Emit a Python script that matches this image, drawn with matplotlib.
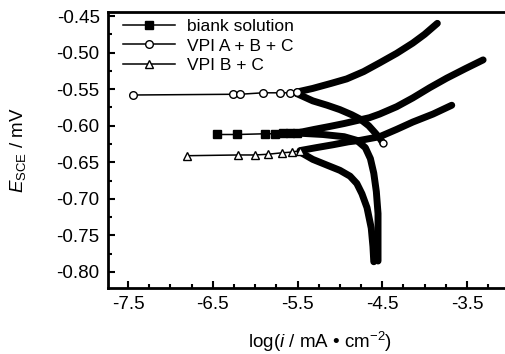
import matplotlib
matplotlib.use("Agg")
import matplotlib.pyplot as plt
from matplotlib.ticker import MultipleLocator, FixedLocator

plt.rcParams['font.family'] = ['Liberation Sans', 'DejaVu Sans']
plt.rcParams['mathtext.fontset'] = 'custom'
plt.rcParams['mathtext.rm'] = 'Liberation Sans'
plt.rcParams['mathtext.it'] = 'Liberation Sans:italic'

# blank solution: points near Ecorr, anodic and cathodic branches
blank_x = [-6.45, -6.21, -5.88, -5.77, -5.67, -5.59, -5.51]
blank_y = [-0.612, -0.612, -0.611, -0.611, -0.610, -0.610, -0.610]
blank_an_x = [-5.51, -5.30, -5.12, -4.95, -4.80, -4.65, -4.53, -4.33, -4.14,
              -3.94, -3.74, -3.52, -3.31]
blank_an_y = [-0.610, -0.605, -0.601, -0.597, -0.593, -0.589, -0.584, -0.574,
              -0.562, -0.548, -0.535, -0.522, -0.510]
blank_ca_x = [-5.51, -5.20, -4.95, -4.80, -4.70, -4.64, -4.60, -4.57, -4.55,
              -4.55, -4.55]
blank_ca_y = [-0.610, -0.612, -0.615, -0.620, -0.630, -0.645, -0.665, -0.690,
              -0.720, -0.750, -0.785]

# VPI A + B + C
abc_x = [-7.44, -6.26, -6.18, -5.91, -5.71, -5.59, -5.51]
abc_y = [-0.558, -0.557, -0.557, -0.555, -0.555, -0.555, -0.554]
abc_an_x = [-5.51, -5.32, -5.10, -4.92, -4.72, -4.53, -4.33, -4.14, -4.00, -3.85]
abc_an_y = [-0.554, -0.549, -0.542, -0.536, -0.526, -0.514, -0.501, -0.487,
            -0.475, -0.460]
abc_ca_x = [-5.51, -5.32, -5.15, -5.00, -4.86, -4.76, -4.66, -4.59, -4.53, -4.49]
abc_ca_y = [-0.556, -0.566, -0.572, -0.578, -0.585, -0.591, -0.600, -0.609,
            -0.617, -0.624]

# VPI B + C
bc_x = [-6.80, -6.20, -6.00, -5.85, -5.68, -5.56, -5.47]
bc_y = [-0.641, -0.640, -0.640, -0.639, -0.637, -0.636, -0.634]
bc_an_x = [-5.47, -5.28, -5.08, -4.90, -4.76, -4.53, -4.33, -4.14, -3.90, -3.68]
bc_an_y = [-0.634, -0.630, -0.626, -0.622, -0.620, -0.615, -0.605, -0.595,
           -0.584, -0.572]
bc_ca_x = [-5.47, -5.32, -5.15, -5.00, -4.88, -4.80, -4.74, -4.68, -4.63, -4.61,
           -4.60]
bc_ca_y = [-0.636, -0.646, -0.654, -0.661, -0.669, -0.679, -0.693, -0.712,
           -0.740, -0.765, -0.786]

fig = plt.figure(figsize=(5.06, 3.54), dpi=100)
ax = fig.add_axes([108 / 506, 1 - 288 / 354, 398 / 506, 276 / 354])

thick = dict(color='black', lw=5.0, solid_capstyle='round',
             solid_joinstyle='round', zorder=2)
ax.plot(blank_an_x, blank_an_y, **thick)
ax.plot(blank_ca_x, blank_ca_y, **thick)
ax.plot(abc_an_x, abc_an_y, **thick)
ax.plot(abc_ca_x, abc_ca_y, **thick)
ax.plot(bc_an_x, bc_an_y, **thick)
ax.plot(bc_ca_x, bc_ca_y, **thick)

ax.plot(blank_x, blank_y, '-s', color='black', lw=1.1, ms=5.5,
        mfc='black', label='biank solution', zorder=3)
ax.plot(abc_x, abc_y, '-o', color='black', lw=1.1, ms=5.5,
        mfc='white', label='VPI A + B + C', zorder=3)
ax.plot(abc_ca_x[-1:], abc_ca_y[-1:], 'o', color='black', ms=5, mfc='white', zorder=3)
ax.plot(bc_x, bc_y, '-^', color='black', lw=1.1, ms=5.5,
        mfc='white', label='VPI B + C', zorder=3)

ax.set_xlim(-7.736, -3.04)
ax.set_ylim(-0.8219, -0.4445)

ax.xaxis.set_major_locator(FixedLocator([-7.5, -6.5, -5.5, -4.5, -3.5]))
ax.xaxis.set_minor_locator(MultipleLocator(0.25))
ax.yaxis.set_minor_locator(MultipleLocator(0.025))
ax.set_yticks([-0.45, -0.50, -0.55, -0.60, -0.65, -0.70, -0.75, -0.80])
ax.set_yticklabels(['-0.45', '-0.50', '-0.55', '-0.60', '-0.65', '-0.70', '-0.75', '-0.80'])
ax.set_xticklabels(['-7.5', '-6.5', '-5.5', '-4.5', '-3.5'])

ax.tick_params(which='both', direction='in', labelsize=13.5, width=1.5, pad=6)
ax.tick_params(which='major', length=5)
ax.tick_params(which='minor', length=3)
ax.spines['right'].set_visible(False)
for s in ['left', 'bottom', 'top']:
    ax.spines[s].set_linewidth(2)

ax.set_xlabel(r'log($i$ / mA • cm$^{-2}$)', fontsize=13.5)
ax.xaxis.set_label_coords(0.533, -0.15)
ax.set_ylabel(r'$E_{\mathrm{SCE}}$ / mV', fontsize=13.5)
ax.yaxis.set_label_coords(-0.2, 0.5)

ax.legend(loc='upper left', bbox_to_anchor=(0.038, 0.975), frameon=False,
          fontsize=12.5, handlelength=3.0, handletextpad=0.7, labelspacing=0.25,
          borderpad=0, borderaxespad=0)

fig.savefig('out.png', dpi=100)
